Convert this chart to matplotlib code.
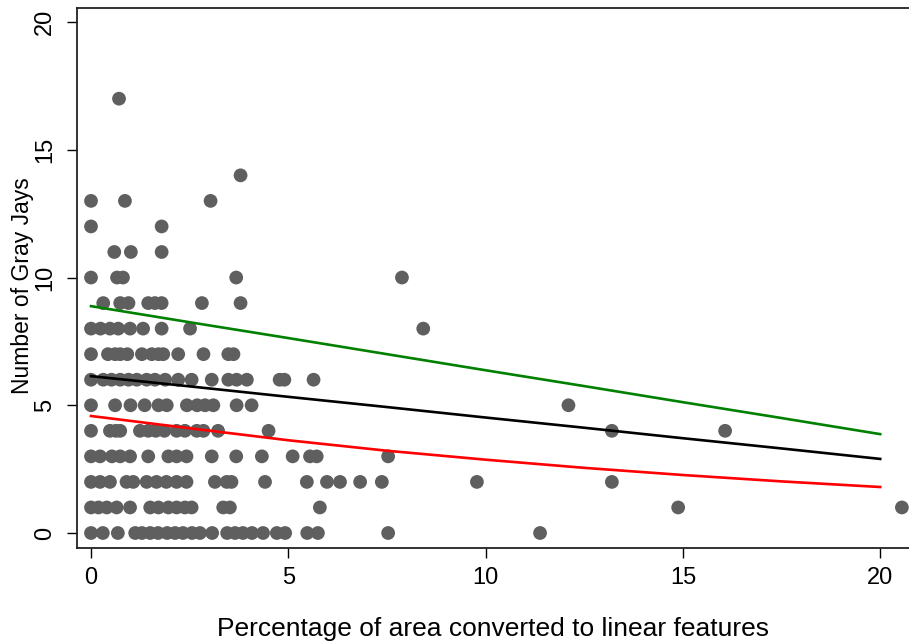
import matplotlib
matplotlib.use("Agg")
import matplotlib.pyplot as plt
import numpy as np

plt.rcParams['font.family'] = ['Liberation Sans', 'DejaVu Sans']

# Observed points: x (percentage converted) for each count level
x_at_0 = [0, 0.30, 0.68, 1.12, 1.29, 1.50, 1.70, 1.93, 2.13, 2.33, 2.56, 2.76, 3.07,
          3.45, 3.65, 3.85, 4.08, 4.36, 4.71, 4.92, 5.48, 5.75, 7.53, 11.38]
x_at_1 = [0, 0.19, 0.40, 0.65, 0.99, 1.50, 1.71, 1.96, 2.17, 2.38, 2.55, 3.35, 3.52,
          5.80, 14.88, 20.55]
x_at_2 = [0, 0.23, 0.48, 0.90, 1.07, 1.41, 1.66, 1.91, 2.17, 2.42, 3.14, 3.44, 3.56,
          4.41, 5.47, 5.98, 6.31, 6.82, 7.37, 9.78, 13.2]
x_at_3 = [0, 0.23, 0.53, 0.74, 0.99, 1.45, 1.96, 2.17, 2.42, 3.06, 3.68, 4.33, 5.11,
          5.55, 5.72, 7.53]
x_at_4 = [0, 0.48, 0.63, 0.74, 1.24, 1.45, 1.64, 1.86, 2.17, 2.38, 2.68, 2.85, 3.22,
          4.50, 13.2, 16.07]
x_at_5 = [0, 0.61, 1.00, 1.36, 1.71, 1.92, 2.43, 2.69, 2.89, 3.10, 3.69, 4.07, 12.1]
x_at_6 = [0, 0.31, 0.52, 0.74, 0.95, 1.16, 1.41, 1.62, 1.88, 2.21, 2.55, 3.06, 3.48,
          3.69, 3.95, 4.78, 4.90, 5.64]
x_at_7 = [0, 0.43, 0.61, 0.74, 0.92, 1.29, 1.54, 1.71, 1.83, 2.21, 2.85, 3.48, 3.61]
x_at_8 = [0, 0.24, 0.48, 0.69, 0.99, 1.32, 1.79, 2.51, 8.42]
x_at_9 = [0.31, 0.74, 0.95, 1.45, 1.62, 1.79, 2.81, 3.79]
x_at_10 = [0, 0.66, 0.81, 3.68, 7.88]
x_at_11 = [0.59, 1.01, 1.79]
x_at_12 = [0, 1.79]
x_at_13 = [0, 0.86, 3.03]
x_at_14 = [3.79]
x_at_17 = [0.71]

rows = {0: x_at_0, 1: x_at_1, 2: x_at_2, 3: x_at_3, 4: x_at_4, 5: x_at_5,
        6: x_at_6, 7: x_at_7, 8: x_at_8, 9: x_at_9, 10: x_at_10, 11: x_at_11,
        12: x_at_12, 13: x_at_13, 14: x_at_14, 17: x_at_17}

# Fitted curves
curve_x = [0, 2.5, 5, 7.5, 10, 12.5, 15, 17.5, 20]
upper_y = [8.88, 8.25, 7.63, 7.00, 6.37, 5.75, 5.12, 4.50, 3.87]
mid_y = [6.14, 5.74, 5.33, 4.93, 4.52, 4.12, 3.71, 3.31, 2.90]
lower_y = [4.58, 4.10, 3.63, 3.22, 2.87, 2.55, 2.27, 2.02, 1.80]

x_ticks = [0, 5, 10, 15, 20]
y_ticks = [0, 5, 10, 15, 20]

fig = plt.figure(figsize=(9.09, 6.44), dpi=100)
W, H = 909, 644
left, right, top, bottom = 77, 909, 8, 548
ax = fig.add_axes([left / W, (H - bottom) / H, (right - left) / W, (bottom - top) / H])

xs, ys = [], []
for yv, xl in rows.items():
    xs.extend(xl)
    ys.extend([yv] * len(xl))
ax.scatter(xs, ys, s=98, color='#5f5f5f', edgecolors='none', zorder=2)

ax.plot(curve_x, upper_y, color='#008000', lw=1.9, zorder=3)
ax.plot(curve_x, mid_y, color='black', lw=1.9, zorder=3)
ax.plot(curve_x, lower_y, color='#ff0000', lw=1.9, zorder=3)

ax.set_xlim(-0.355, 20.73)
ax.set_ylim(-0.587, 20.55)
ax.set_xticks(x_ticks)
ax.set_yticks(y_ticks)
ax.set_xticklabels([str(t) for t in x_ticks], fontsize=17)
ax.set_yticklabels([str(t) for t in y_ticks], fontsize=17, rotation=90, va='center')
ax.tick_params(axis='x', direction='out', length=7, width=1, colors='black', pad=7)
ax.tick_params(axis='y', direction='out', length=7, width=1, colors='black', pad=8)
ax.spines['right'].set_visible(False)
for s in ['left', 'top', 'bottom']:
    ax.spines[s].set_linewidth(1.3)
    ax.spines[s].set_color('#222222')

ax.set_xlabel('Percentage of area converted to linear features', fontsize=19, labelpad=20)
ax.set_ylabel('Number of Gray Jays', fontsize=16.5)
ax.yaxis.set_label_coords(-0.052, 0.485)

fig.savefig('out.png', dpi=100)
